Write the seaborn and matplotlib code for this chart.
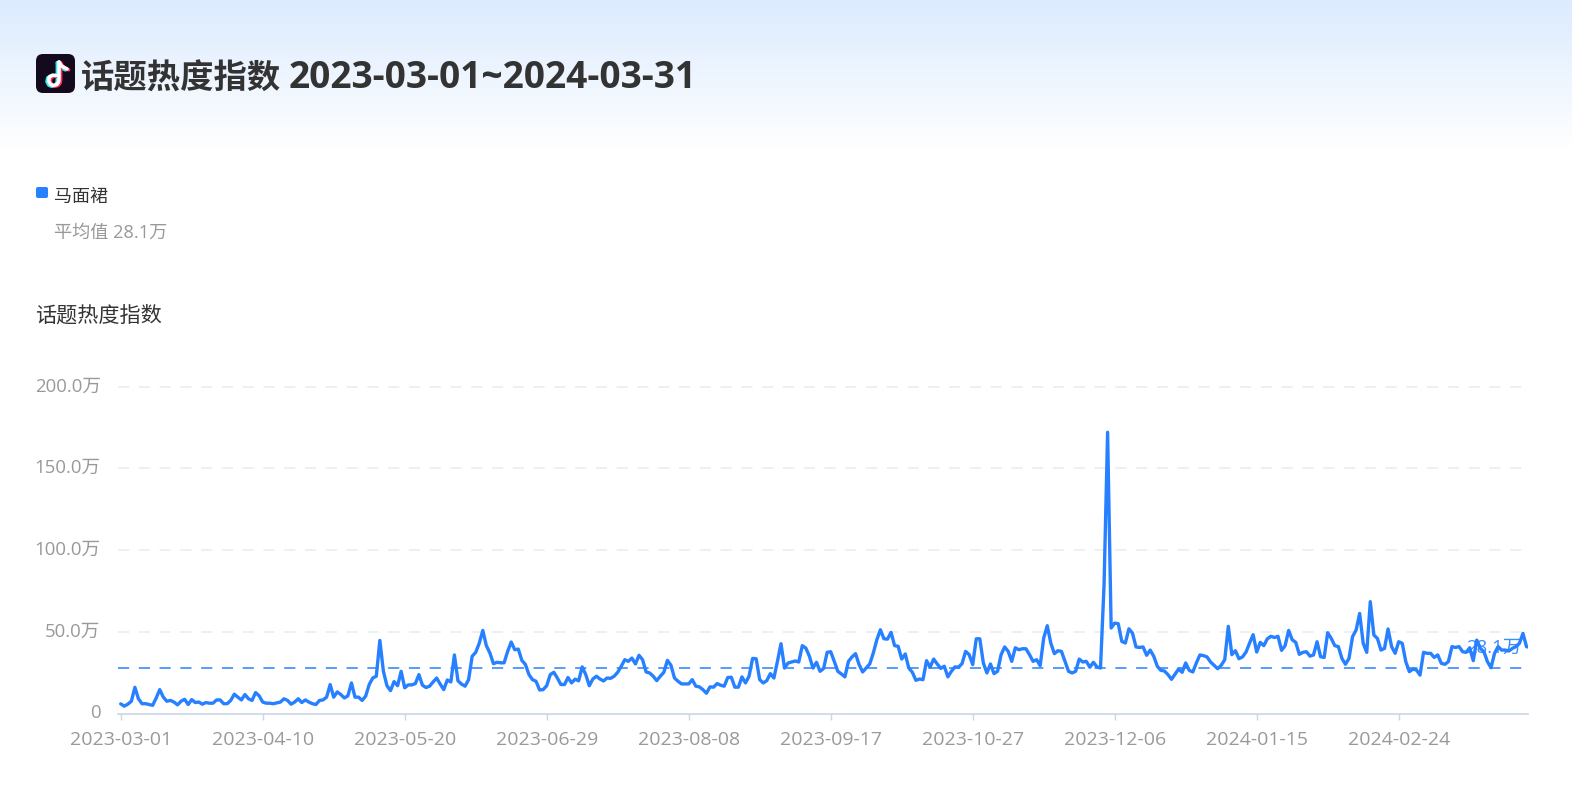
import numpy as np
import pandas as pd
import matplotlib
matplotlib.use("Agg")
import matplotlib.pyplot as plt
from matplotlib.patches import FancyBboxPatch
from matplotlib.lines import Line2D
from matplotlib.transforms import Affine2D, ScaledTranslation, blended_transform_factory
import seaborn as sns

title_name = "话题热度指数"
title_range = "2023-03-01~2024-03-31"
series_name = "马面裙"
avg_label = "平均值 28.1万"
axis_title = "话题热度指数"
avg_value = 28.1
avg_tag = "28.1万"
y_ticks = [0, 50, 100, 150, 200]
y_tick_labels = ["0", "50.0万", "100.0万", "150.0万", "200.0万"]
x_tick_labels = ["2023-03-01", "2023-04-10", "2023-05-20", "2023-06-29", "2023-08-08",
                 "2023-09-17", "2023-10-27", "2023-12-06", "2024-01-15", "2024-02-24"]

values_a = [5.9, 4.5, 5.7, 7.5, 16, 9, 6, 6, 5.5, 5, 9.5, 14.6, 10, 7.5, 8, 7, 5.3, 7.5, 8.7, 5.5,
            8.5, 6.7, 7, 5.7, 6.7, 6.3, 6.3, 8.3, 8.3, 6, 6, 8, 11.8, 10, 8.3, 11.6, 9, 8, 12.8, 10.8,
            7, 6.3, 6.3, 6, 6.5, 7, 9, 8, 5.7, 7, 9, 6.7, 8.3, 7, 6, 5.5, 8, 8.3, 10, 17.7,
            10, 13.2, 11.6, 9.5, 10.8, 18.7]
values_b = [10, 10, 8, 10.6, 17.7, 21.7, 22.8, 44.7, 25.8, 17, 14, 19.5, 17, 25.8, 15.7, 17.5, 17.5,
            18.3, 23.8, 17.3, 15.9, 16.7, 19.3, 21.7, 18, 14.6, 20.5, 19.3, 35.8, 20, 18, 16.7, 20.7,
            35, 37.4, 43, 50.8, 41.5, 37, 30.5, 31.3, 31, 31, 38, 43.7, 39, 39.4, 32.5, 30, 23.8,
            20.7, 19.7, 14.4, 14.6, 17, 23.8, 25.2, 21.7, 17.7, 17.7, 22, 18.7, 21, 20, 28.5, 23.8, 17]
values_c = [21.1, 22.8, 21.1, 19.9, 21.7, 21.5, 22.8, 25.2, 28.9, 32.9, 31.9, 33.9, 30.3, 35.6, 32.9,
            25.4, 24.8, 22.8, 20.1, 22.8, 25.2, 32.5, 29.5, 21.7, 19.7, 18.1, 18.1, 18.1, 20.7, 16.7,
            16.3, 14.6, 12.4, 16.3, 16.1, 18.3, 17.3, 16.7, 22, 22.2, 16.1, 16.1, 22.4, 18.7, 22.8,
            33.7, 33.5, 20.7, 18.7, 20.1, 24.4, 21.7, 31.9, 42.7, 27.8, 30.9, 31.5, 32.1, 31.5, 41.5,
            40, 35, 27.8, 31.3, 25.8]
values_d = [27.5, 37.4, 37.8, 31.9, 25.8, 24.2, 22.4, 31.9, 34.6, 36.6, 29.9, 25.4, 27.8, 30.3, 37,
            45.1, 51.2, 45.7, 45.5, 49.6, 41.5, 41.1, 33.3, 36.4, 27.8, 25.2, 20.3, 21.1, 20.7, 32.3,
            28.3, 33.3, 30.3, 27.6, 28.9, 22.4, 25.8, 28.5, 28.3, 30.5, 38, 36, 29.9, 45.7, 45.7,
            30.9, 24.8, 30.3, 24.4, 25.8, 36, 40.7, 38, 31.9, 40.2, 39, 39.6, 39.6, 36, 31.9, 32.9,
            29.3, 46.1, 53.7, 43.1, 36.6, 38.4]
values_e = [38, 31.9, 25.8, 24.8, 25.8, 33.3, 31.5, 31.9, 28.3, 31.3, 28.5, 27.8, 78.5, 172, 52.3,
            55.3, 54.9, 44.1, 43.1, 51.8, 49.2, 40.7, 40.4, 40.7, 35.6, 38.8, 35, 28.9, 26.4, 26,
            23.8, 20.9, 24, 27.2, 25.2, 30.9, 26.4, 25.4, 30.9, 35.8, 35.4, 34.6, 31.5, 29.5, 27.4,
            29.5, 32.9, 53.3, 36, 38.4, 33.5, 34.6, 37.6, 43.1, 48.2, 37.6, 43.5, 41.5, 45.7, 47.2,
            46.5, 47.2, 38.6, 41.5, 50.8, 45.1]
values_f = [43.5, 36.2, 37.4, 37.8, 35.1, 35.8, 43.9, 34.7, 34.3, 49.4, 45.9, 41.5, 40.9, 33.7, 30.1,
            33.7, 47, 51, 61.2, 42.9, 37.4, 68.4, 48, 45.9, 38.8, 39.8, 51.7, 40.9, 36.8, 43.9, 42.9,
            31.7, 25.6, 27.2, 26.6, 23.5, 37.4, 36.8, 36.8, 34.3, 35.8, 30.7, 30.1, 31.7, 40.9, 40.4,
            40.9, 37.8, 37.4, 40.2, 32.3, 44.9, 39.8, 37.8, 31.7, 28, 36.8, 40.9, 38.8, 38.8, 38.2,
            39.8, 40.9, 42.9, 49, 40.9, 40.4]

values = values_a + values_b + values_c + values_d + values_e + values_f
dates = pd.date_range("2023-03-01", periods=len(values), freq="D")

W, H = 1572, 801
BLUE = "#2680ff"
GRAY = "#999999"
DARK = "#333333"
sns.set_theme(style="white")
plt.rcParams["font.family"] = ["Open Sans", "Noto Sans CJK SC", "DejaVu Sans"]
fig = plt.figure(figsize=(W / 100, H / 100), dpi=100, facecolor="white")

# background layer in pixel coordinates
bg = fig.add_axes([0, 0, 1, 1], zorder=0)
top = np.array(matplotlib.colors.to_rgb("#dcebfe"))
grad = np.linspace(0, 1, 150)[:, None, None] * (1 - top) + top
bg.imshow(grad, extent=[0, W, 150, 0], aspect="auto", zorder=0)
bg.set_xlim(0, W)
bg.set_ylim(H, 0)
bg.axis("off")

# app icon
bg.add_patch(FancyBboxPatch((42, 60), 27, 27, boxstyle="round,pad=6,rounding_size=7",
                            mutation_scale=1, fc="#140a1e", ec="none", zorder=2))
note_x = [59, 59, 58.6, 56.8, 53.4, 50.4, 48.6, 49.4, 52.4, 55.8]
note_y = [62, 79, 82, 84.5, 85.5, 84.3, 80.8, 77, 75.2, 75.4]
for dx, dy, col in [(-1.6, 0.8, "#25f4ee"), (1.6, 0.8, "#fe2c55"), (0, 0, "white")]:
    bg.add_line(Line2D(np.array(note_x) + dx, np.array(note_y) + dy, color=col, lw=2.6, zorder=3,
                       solid_capstyle="round"))
    bg.add_line(Line2D(np.array([59, 61.5, 66, 67]) + dx, np.array([62, 66, 68.5, 69]) + dy, color=col,
                       lw=2.6, zorder=3, solid_capstyle="round"))

bg.text(80.5, 89, title_name, fontsize=24, fontweight="bold", color=DARK, va="baseline", ha="left")
bg.text(289, 88.5, title_range, fontsize=26.7, fontweight="bold", color=DARK, va="baseline", ha="left")
bg.add_patch(FancyBboxPatch((38, 189), 8, 7, boxstyle="round,pad=2,rounding_size=2",
                            mutation_scale=1, fc=BLUE, ec="none"))
bg.text(54, 197, series_name, fontsize=13, color=DARK, va="center", ha="left")
bg.text(54, 233, avg_label, fontsize=13.1, color=GRAY, va="center", ha="left")
bg.text(35.5, 316, axis_title, fontsize=15.2, color=DARK, va="center", ha="left")

# chart area
L, R, T, B = 118.3, 1528, 386.5, 713.5
ax = fig.add_axes([L / W, 1 - B / H, (R - L) / W, (B - T) / H], zorder=1)
ax.patch.set_alpha(0)
sns.lineplot(x=dates, y=values, ax=ax, color=BLUE, lw=2.4, errorbar=None, zorder=3)
px_day = 3.55
start = dates[0]
ax.set_xlim(start - pd.Timedelta(days=(120.7 - L) / px_day),
            start + pd.Timedelta(days=(R - 120.7) / px_day))
ax.set_ylim(0, 200)
ax.set_xlabel("")
ax.set_ylabel("")
ax.set_yticks(y_ticks)
ax.set_yticklabels(y_tick_labels, fontsize=13.4, color=GRAY)
ax.set_xticks(pd.to_datetime(x_tick_labels))
ax.set_xticklabels(x_tick_labels, fontsize=14, color=GRAY)
ax.tick_params(axis="y", length=0, pad=12.7)
ax.tick_params(axis="x", length=4, width=1, color="#c9d6e8", pad=8.6, bottom=True)
up = ScaledTranslation(0, 2 / 100, fig.dpi_scale_trans)
for lab in ax.get_yticklabels():
    lab.set_transform(lab.get_transform() + up)
for s in ["top", "left", "right"]:
    ax.spines[s].set_visible(False)
ax.spines["bottom"].set_color("#c9d6e8")
ax.spines["bottom"].set_linewidth(1.2)
ax.grid(False)
for v in y_ticks[1:]:
    ax.axhline(v, color="#e8ebf0", lw=1.1, ls=(0, (7.3, 6.3)), zorder=1)
ax.axhline(avg_value, color=BLUE, lw=1.1, ls=(0, (7.3, 6.3)), zorder=2)
tag_trans = blended_transform_factory(
    Affine2D().translate(-L, 0).scale(1 / (R - L), 1) + ax.transAxes, ax.transData)
ax.text(1494, 40, avg_tag, color=BLUE, alpha=0.9, fontsize=13.4, ha="center", va="center",
        transform=tag_trans, zorder=4)

fig.savefig("out.png", dpi=100, facecolor="white")
